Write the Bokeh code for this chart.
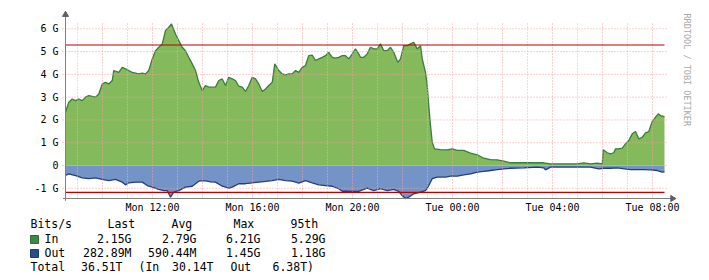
import math
from bokeh.plotting import figure
from bokeh.models import Range1d, FixedTicker
from bokeh.core.properties import value
from bokeh.embed import file_html
from bokeh.resources import INLINE

# ---- data (hours since Monday 00:00, Gbit/s) ----
hours_in = [8.52, 8.65, 8.79, 8.92, 9.05, 9.19, 9.32, 9.45, 9.59, 9.72, 9.85, 9.99, 10.12, 10.25, 10.39,
            10.45, 10.65, 10.79, 10.92, 11.05, 11.19, 11.32, 11.45, 11.59, 11.72, 11.85, 11.99, 12.12,
            12.25, 12.39, 12.52, 12.65, 12.76, 12.92, 13.05, 13.19, 13.32, 13.45, 13.59, 13.72, 13.85,
            13.99, 14.12, 14.25, 14.32, 14.52, 14.65, 14.79, 14.92, 15.05, 15.19, 15.32, 15.45, 15.59,
            15.72, 15.85, 15.99, 16.12, 16.25, 16.39, 16.52, 16.65, 16.79, 16.89, 17.05, 17.19, 17.32,
            17.45, 17.59, 17.72, 17.85, 17.99, 18.12, 18.25, 18.39, 18.52, 18.65, 18.79, 18.92, 19.05,
            19.19, 19.32, 19.45, 19.59, 19.72, 19.85, 19.99, 20.12, 20.25, 20.32, 20.45, 20.59, 20.72,
            20.85, 20.99, 21.12, 21.25, 21.39, 21.52, 21.65, 21.81, 21.92, 22.05, 22.19, 22.32, 22.45,
            22.59, 22.72, 22.79, 22.92, 22.99, 23.05, 23.12, 23.19, 23.28, 23.52, 23.79, 23.99, 24.19,
            24.45, 24.72, 24.99, 25.25, 25.52, 25.79, 26.05, 26.32, 26.72, 27.12, 27.39, 27.65, 27.92,
            28.32, 28.72, 28.99, 29.25, 29.52, 29.79, 29.99, 30.03, 30.19, 30.32, 30.45, 30.52, 30.65,
            30.79, 30.92, 31.05, 31.19, 31.32, 31.45, 31.59, 31.72, 31.85, 31.99, 32.12, 32.23, 32.32,
            32.48]
bits_in = [2.34, 2.78, 2.92, 2.85, 2.92, 2.85, 3.00, 3.07, 3.03, 3.00, 3.14, 3.58, 3.65, 3.58, 3.73,
           4.17, 4.09, 4.31, 4.24, 4.17, 4.09, 4.06, 4.02, 4.06, 4.02, 4.17, 4.68, 5.04,
           5.19, 5.34, 5.92, 6.07, 6.21, 5.77, 5.48, 5.19, 5.04, 4.75, 4.46, 4.17, 3.65,
           3.29, 3.51, 3.44, 3.44, 3.44, 3.73, 3.80, 3.51, 3.87, 3.80, 3.73, 3.48, 3.44,
           3.25, 3.51, 3.87, 3.80, 3.58, 3.25, 3.36, 3.51, 3.65, 4.46, 4.17, 4.02, 3.98,
           4.02, 4.02, 4.17, 4.09, 4.31, 4.39, 4.82, 4.85, 4.61, 4.68, 4.75, 4.82, 4.97,
           4.75, 4.71, 4.75, 4.82, 4.82, 4.68, 4.90, 5.12, 4.90, 4.75, 4.75, 4.90, 5.19,
           5.12, 5.12, 5.34, 5.04, 5.04, 5.19, 4.97, 4.53, 4.68, 5.26, 5.26, 5.34, 5.41,
           5.12, 5.26, 4.68, 4.09, 3.51, 2.63, 1.75, 1.02, 0.73, 0.70, 0.69, 0.73, 0.66,
           0.66, 0.54, 0.47, 0.32, 0.26, 0.25, 0.19, 0.12, 0.12, 0.12, 0.13, 0.12, 0.07,
           0.07, 0.07, 0.07, 0.12, 0.07, 0.10, 0.07, 0.69, 0.56, 0.51, 0.56, 0.73, 0.73,
           0.76, 0.95, 1.10, 1.39, 1.49, 1.17, 1.24, 1.43, 1.49, 1.93, 2.12, 2.27, 2.19,
           2.15]

hours_out = [8.52, 8.65, 8.92, 9.19, 9.45, 9.72, 9.99, 10.25, 10.52, 10.79, 10.92, 11.05, 11.32, 11.59,
             11.79, 11.99, 12.25, 12.45, 12.59, 12.72, 12.85, 13.05, 13.32, 13.59, 13.85, 13.99, 14.19,
             14.32, 14.52, 14.79, 15.05, 15.19, 15.45, 15.72, 15.99, 16.25, 16.52, 16.79, 17.05, 17.32,
             17.59, 17.85, 18.12, 18.39, 18.65, 18.92, 19.19, 19.45, 19.59, 19.72, 19.99, 20.25, 20.32,
             20.59, 20.85, 21.12, 21.39, 21.65, 21.85, 21.99, 22.12, 22.25, 22.45, 22.72, 22.92, 23.05,
             23.19, 23.39, 23.72, 23.92, 24.19, 24.45, 24.72, 24.99, 25.25, 25.52, 25.79, 26.05, 26.32,
             26.85, 27.39, 27.65, 27.72, 27.92, 28.45, 28.99, 29.52, 29.85, 30.05, 30.32, 30.59, 31.12,
             31.65, 31.92, 32.19, 32.39, 32.48]
bits_out = [-0.44, -0.37, -0.44, -0.54, -0.58, -0.54, -0.61, -0.66, -0.61, -0.73, -0.85, -0.76, -0.73, -0.73,
            -0.88, -0.95, -1.05, -1.10, -1.10, -1.39, -1.17, -1.10, -0.95, -0.91, -0.69, -0.66, -0.69,
            -0.72, -0.73, -0.91, -0.99, -0.95, -0.80, -0.80, -0.76, -0.73, -0.70, -0.66, -0.61, -0.66,
            -0.69, -0.77, -0.66, -0.76, -0.85, -0.88, -0.91, -1.02, -1.13, -1.13, -1.14, -1.14, -1.10,
            -0.99, -1.10, -1.02, -1.10, -1.05, -1.14, -1.32, -1.45, -1.39, -1.24, -1.17, -1.10, -0.88,
            -0.58, -0.51, -0.51, -0.47, -0.47, -0.41, -0.37, -0.29, -0.26, -0.22, -0.18, -0.15, -0.12,
            -0.10, -0.07, -0.10, -0.19, -0.07, -0.07, -0.07, -0.07, -0.15, -0.12, -0.12, -0.10, -0.18,
            -0.18, -0.19, -0.22, -0.29, -0.28]

p95_in = 5.29
p95_out = -1.18

t_start, t_end = 8.52, 32.48          # time span of the graph (hours)
g_min, g_max = -1.449, 6.32           # value span of the graph (Gbit/s)

x_ticks = [12, 16, 20, 24, 28, 32]
x_tick_labels = ["Mon 12:00", "Mon 16:00", "Mon 20:00", "Tue 00:00", "Tue 04:00", "Tue 08:00"]
x_major_grid = [10, 12, 14, 16, 18, 20, 22, 24, 26, 28, 30, 32]
x_minor_grid = [9, 11, 13, 15, 17, 19, 21, 23, 25, 27, 29, 31]
y_ticks = [-1, 0, 1, 2, 3, 4, 5, 6]
y_tick_labels = ["-1 G", "0", "1 G", "2 G", "3 G", "4 G", "5 G", "6 G"]

legend_header = ["Bits/s", "Last", "Avg", "Max", "95th"]
in_stats = ["2.15G", "2.79G", "6.21G", "5.29G"]
out_stats = ["282.89M", "590.44M", "1.45G", "1.18G"]
total_parts = ["Total", "36.51T", "(In", "30.14T", "Out", "6.38T)"]
watermark = "RRDTOOL / TOBI OETIKER"

IN_AREA = "#84ba5c"
IN_LINE = "#3a7d3c"
OUT_AREA = "#7494c8"
OUT_LINE = "#1f3f80"
AXIS = "#808080"
MONO = "DejaVu Sans Mono"

W, H = 709, 280
# the frame covers the whole canvas; the graph area maps 8.52h -> 65px, 25 px per hour,
# 0 G -> 165px (from top), 22.78 px per G
p = figure(width=W, height=H, output_backend="svg", toolbar_location=None,
           x_range=Range1d(5.92, 34.28), y_range=Range1d(-5.048, 7.243),
           min_border_left=0, min_border_right=0, min_border_top=0, min_border_bottom=0)
p.extra_x_ranges = {"px": Range1d(0, W)}
p.extra_y_ranges = {"py": Range1d(H, 0)}
p.outline_line_color = None
p.background_fill_color = "white"
p.border_fill_color = "white"
p.xgrid.visible = False
p.ygrid.visible = False

p.varea(x=hours_in, y1=0, y2=bits_in, fill_color=IN_AREA)
p.varea(x=hours_out, y1=bits_out, y2=0, fill_color=OUT_AREA)
p.line(hours_in, bits_in, line_color=IN_LINE, line_width=1.3)
p.line(hours_out, bits_out, line_color=OUT_LINE, line_width=1.3)

# grid lines over the areas
gx_end = t_end + 0.12
p.segment(x0=x_minor_grid, x1=x_minor_grid, y0=[g_min] * len(x_minor_grid), y1=[g_max] * len(x_minor_grid),
          line_color="#c4c4c4", line_dash="1 2", line_width=1)
p.segment(x0=x_major_grid, x1=x_major_grid, y0=[g_min] * len(x_major_grid), y1=[g_max] * len(x_major_grid),
          line_color="#f4a0a0", line_dash="1 2", line_width=1)
p.segment(x0=[t_start - 0.12] * len(y_ticks), x1=[gx_end] * len(y_ticks), y0=y_ticks, y1=y_ticks,
          line_color="#f4a0a0", line_dash="1 2", line_width=1)

# 95th percentile lines
p.line([t_start, t_end], [p95_in, p95_in], line_color="#b80000", line_width=1.2)
p.line([t_start, t_end], [p95_out, p95_out], line_color="#b80000", line_width=1.2)

# axis lines with arrow heads
p.line([t_start, t_start], [g_min - 0.1, 6.62], line_color=AXIS, line_width=1)
p.line([t_start - 0.1, 32.8], [g_min, g_min], line_color=AXIS, line_width=1)
p.scatter([t_start], [6.62], marker="triangle", size=6, fill_color="#606060", line_color="#606060")
p.scatter([32.8], [g_min], marker="triangle", angle=-math.pi / 2, size=6,
          fill_color="#606060", line_color="#606060")

# axes at fixed positions (tick labels only)
p.xaxis.fixed_location = g_min
p.yaxis.fixed_location = t_start
p.xaxis.ticker = FixedTicker(ticks=x_ticks)
p.xaxis.major_label_overrides = dict(zip(x_ticks, x_tick_labels))
p.yaxis.ticker = FixedTicker(ticks=y_ticks)
p.yaxis.major_label_overrides = dict(zip(y_ticks, y_tick_labels))
for ax in (p.xaxis[0], p.yaxis[0]):
    ax.axis_line_color = None
    ax.major_tick_line_color = None
    ax.minor_tick_line_color = None
    ax.major_tick_out = 0
    ax.major_tick_in = 0
    ax.major_label_text_font = MONO
    ax.major_label_text_font_size = "10px"
    ax.major_label_text_color = "black"
p.xaxis.major_label_standoff = 3
p.yaxis.major_label_standoff = 7

# watermark (page pixel coordinates)
p.text(x=[686], y=[13], text=[watermark], angle=-math.pi / 2, text_align="left",
       text_baseline="middle", text_font=value(MONO), text_font_size="8.5px", text_color="#a8a8a8",
       x_range_name="px", y_range_name="py")

# legend block (page pixel coordinates)
FS = "11.5px"
def ltext(xs, ys, texts, align):
    p.text(x=xs, y=ys, text=texts, text_align=align, text_baseline="middle",
           text_font=value(MONO), text_font_size=FS, text_color="black",
           x_range_name="px", y_range_name="py")

col_right = [131, 196, 260, 325]
ltext([30, 107, 171, 233, 290], [223.5] * 5, legend_header, "left")
ltext([44], [238], ["In"], "left")
ltext(col_right, [238] * 4, in_stats, "right")
ltext([44], [252], ["Out"], "left")
ltext(col_right, [252] * 4, out_stats, "right")
ltext([30, 138, 230, 272], [266] * 4, [total_parts[0], total_parts[2], total_parts[4], total_parts[5]], "left")
ltext([122, 213], [266] * 2, [total_parts[1], total_parts[3]], "right")
p.quad(left=[30, 30], right=[38, 38], top=[235, 249], bottom=[243, 257],
       fill_color=["#3c8a46", "#2a4d8c"], line_color=["#2d6a34", "#1f3a6c"], line_width=1,
       x_range_name="px", y_range_name="py")

open("out.html", "w").write(file_html(p, INLINE))
